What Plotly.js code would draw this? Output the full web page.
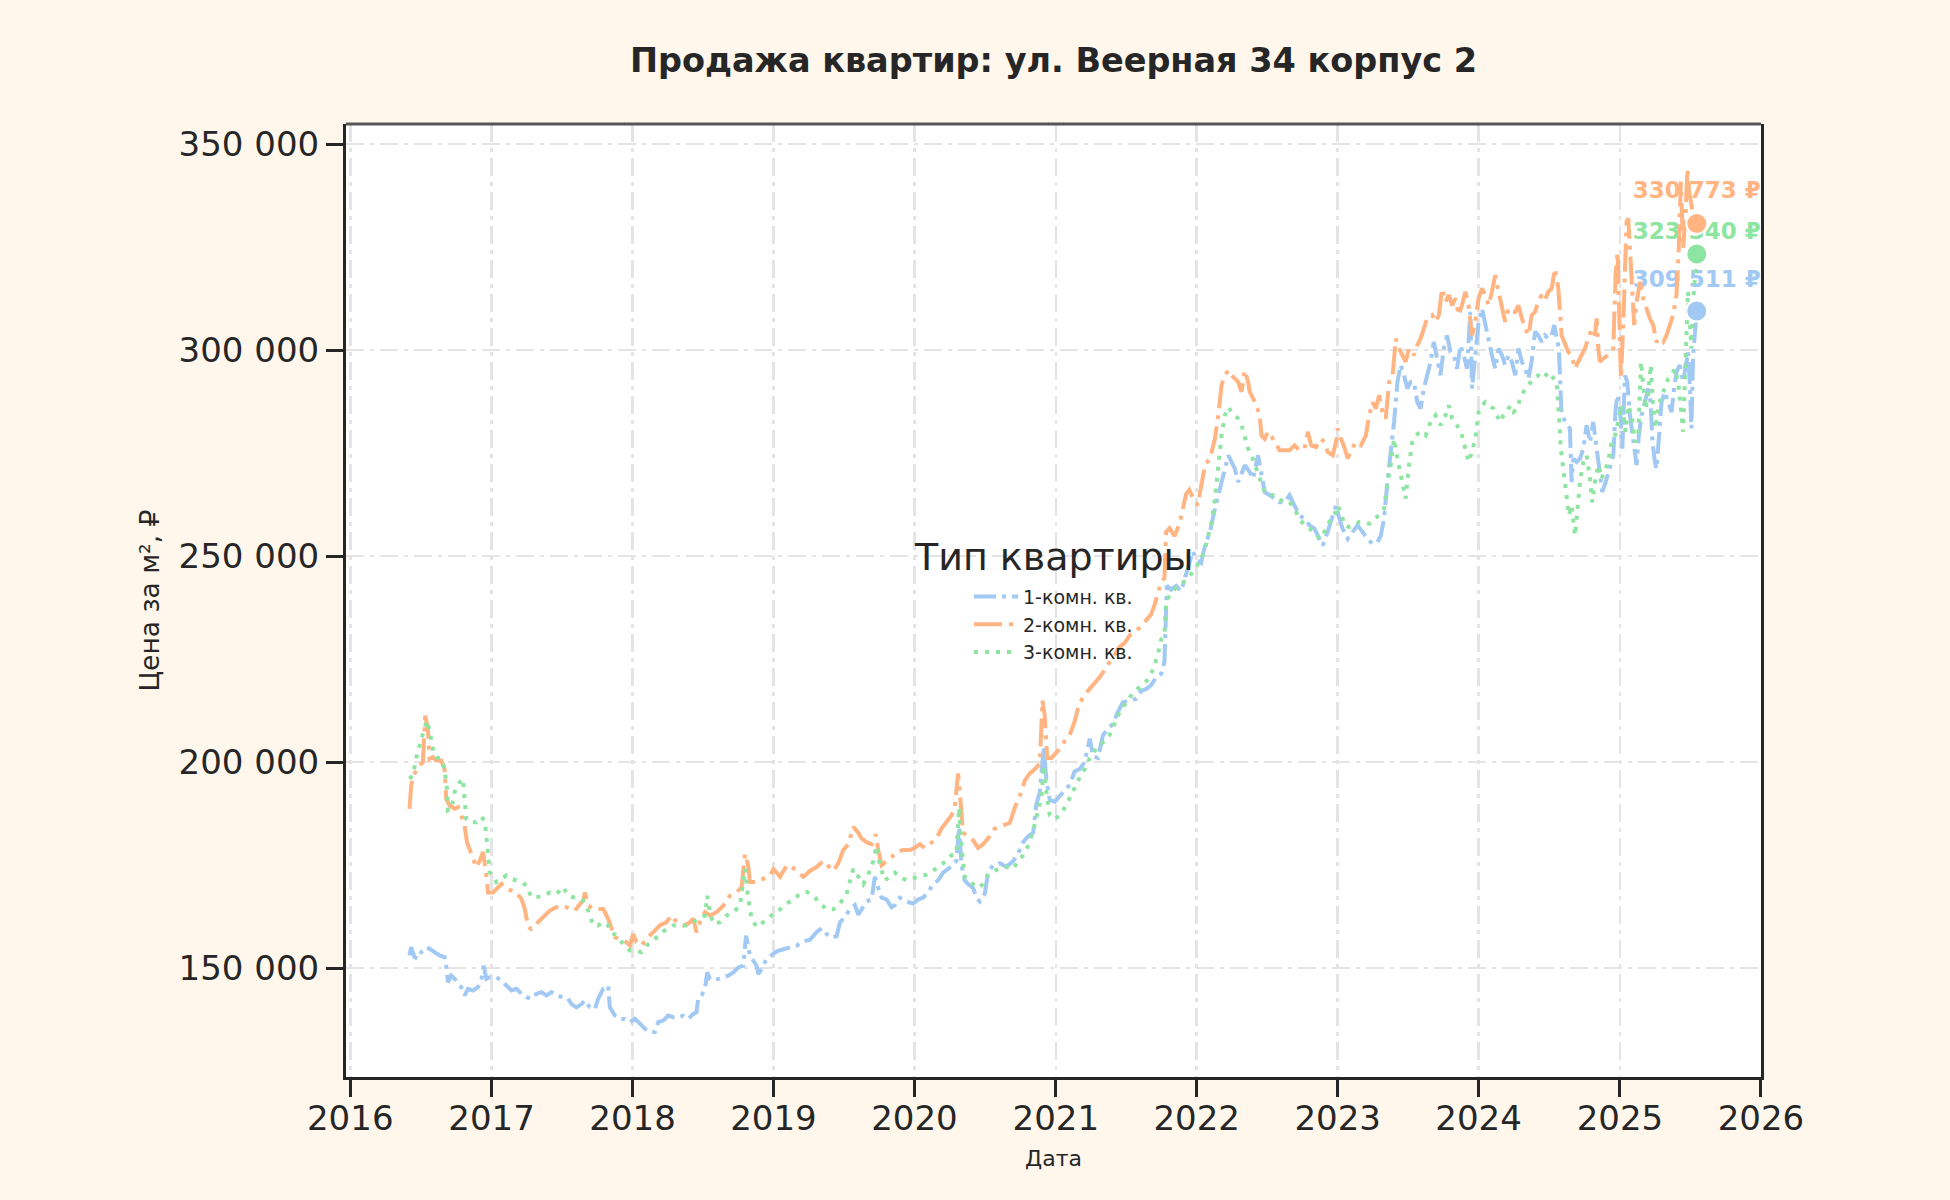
<!DOCTYPE html>
<html>
<head>
<meta charset="utf-8">
<script src="https://cdn.plot.ly/plotly-3.0.1.min.js"></script>
<style>html,body{margin:0;padding:0;background:#fff7ec;}#chart{width:1950px;height:1200px;}</style>
</head>
<body>
<div id="chart"></div>
<script>
// Series names and colours
const seriesNames = ['1-комн. кв.', '2-комн. кв.', '3-комн. кв.'];
const seriesColors = ['#a1c9f4', '#ffb482', '#8de5a1'];
const chartTitle = 'Продажа квартир: ул. Веерная 34 корпус 2';
const legendTitle = 'Тип квартиры';
const xTitle = 'Дата';
const yTitle = 'Цена за м², ₽';

// [decimal year, price per m², ₽]
const oneRoom = [
[2016.419,153100],[2016.431,155100],[2016.454,152700],[2016.478,152300],[2016.502,153900],[2016.537,155100],[2016.561,154700],[2016.596,153900],[2016.632,153100],[2016.667,152700],[2016.679,150600],[2016.691,146600],[2016.715,148200],[2016.750,147000],[2016.786,145400],[2016.809,143400],[2016.833,145000],[2016.869,144600],[2016.904,145400],[2016.928,147400],[2016.944,150600],[2016.963,147400],[2016.987,147800],
[2017.034,147800],[2017.070,147000],[2017.105,145800],[2017.141,144600],[2017.176,145000],[2017.212,143800],[2017.247,143000],[2017.283,142600],[2017.318,143800],[2017.354,144200],[2017.389,143400],[2017.425,144200],[2017.460,143400],[2017.508,143000],[2017.543,142600],[2017.567,141300],[2017.602,140500],[2017.638,141300],[2017.662,142200],[2017.697,140500],[2017.733,140100],[2017.756,142600],[2017.792,145000],[2017.827,145800],[2017.839,140500],[2017.875,138500],[2017.910,137700],[2017.946,137700],[2017.981,136900],
[2018.017,137700],[2018.052,136500],[2018.088,135300],[2018.123,134500],[2018.159,134500],[2018.182,136900],[2018.218,137300],[2018.253,138500],[2018.289,138100],[2018.324,138100],[2018.360,138500],[2018.395,137700],[2018.431,138900],[2018.454,139300],[2018.466,142600],[2018.490,143400],[2018.514,145000],[2018.530,149000],[2018.549,147400],[2018.573,147000],[2018.608,147400],[2018.644,147800],[2018.679,148200],[2018.715,149000],[2018.750,150200],[2018.786,150600],[2018.805,157900],[2018.833,153100],[2018.857,151900],[2018.880,150600],[2018.892,148600],[2018.916,149800],[2018.951,152300],[2018.987,153100],
[2019.024,154100],[2019.071,154600],[2019.118,155100],[2019.165,155500],[2019.212,156500],[2019.259,156900],[2019.307,158800],[2019.342,159700],[2019.377,158300],[2019.413,157400],[2019.448,157800],[2019.472,161100],[2019.507,162500],[2019.542,164300],[2019.578,165300],[2019.601,163000],[2019.625,164300],[2019.660,166200],[2019.696,166700],[2019.719,172200],[2019.743,169500],[2019.767,167100],[2019.802,166700],[2019.837,164800],[2019.861,165300],[2019.896,167100],[2019.943,166200],[2019.991,165700],
[2020.026,166700],[2020.061,167100],[2020.097,168500],[2020.132,170400],[2020.167,171300],[2020.203,173200],[2020.238,174100],[2020.274,175000],[2020.297,176000],[2020.316,184300],[2020.333,175000],[2020.356,171300],[2020.380,170400],[2020.415,169500],[2020.439,167100],[2020.462,166200],[2020.498,168100],[2020.521,173200],[2020.557,175000],[2020.604,175500],[2020.651,174600],[2020.698,176000],[2020.733,177800],[2020.769,180600],[2020.804,182000],[2020.840,182900],[2020.863,189900],[2020.887,192700],[2020.915,203800],[2020.934,195500],[2020.958,190800],[2020.993,190400],
[2021.028,191800],[2021.064,193100],[2021.099,194500],[2021.134,197800],[2021.170,198300],[2021.205,200100],[2021.241,205700],[2021.264,201500],[2021.300,201000],[2021.335,206600],[2021.370,208000],[2021.406,209400],[2021.441,212200],[2021.476,214500],[2021.524,215000],[2021.571,215400],[2021.606,217300],[2021.642,217800],[2021.677,218700],[2021.712,220600],[2021.748,221500],[2021.771,224300],[2021.783,237300],[2021.788,242800],[2021.818,241900],[2021.854,242800],[2021.889,241500],[2021.925,245600],[2021.948,248900],[2021.972,251200],[2021.995,249300],
[2022.031,248400],[2022.059,252600],[2022.094,255900],[2022.129,261500],[2022.153,264800],[2022.176,268800],[2022.200,271200],[2022.224,274500],[2022.247,272900],[2022.271,271200],[2022.294,268000],[2022.318,270400],[2022.341,272100],[2022.376,270400],[2022.400,268800],[2022.435,274500],[2022.459,269600],[2022.482,265600],[2022.518,264800],[2022.553,264000],[2022.588,263100],[2022.624,263100],[2022.659,264800],[2022.694,262300],[2022.729,259900],[2022.765,259100],[2022.800,257500],[2022.835,256700],[2022.859,255000],[2022.894,252600],[2022.929,255900],[2022.965,259900],[2022.988,262300],
[2023.012,259100],[2023.035,256700],[2023.071,254200],[2023.106,255900],[2023.141,257500],[2023.176,255900],[2023.212,254200],[2023.247,253000],[2023.282,253400],[2023.306,255000],[2023.329,259100],[2023.353,268000],[2023.376,274500],[2023.400,282600],[2023.424,292300],[2023.447,296400],[2023.471,293900],[2023.494,290700],[2023.518,292300],[2023.541,292300],[2023.565,287400],[2023.588,285800],[2023.612,290700],[2023.635,293900],[2023.659,297200],[2023.682,302000],[2023.706,298000],[2023.729,293900],[2023.753,300400],[2023.776,303600],[2023.800,299600],[2023.824,298800],[2023.847,295500],[2023.871,301200],[2023.894,298800],[2023.918,295500],[2023.941,309300],[2023.953,290700],[2023.976,298800],
[2024.000,306900],[2024.024,310100],[2024.047,306100],[2024.071,302000],[2024.094,298800],[2024.118,295500],[2024.141,300400],[2024.165,298800],[2024.188,296400],[2024.212,298800],[2024.235,297200],[2024.259,293900],[2024.282,300400],[2024.306,297200],[2024.329,295500],[2024.353,293100],[2024.375,297200],[2024.399,304500],[2024.422,303600],[2024.446,302000],[2024.469,303600],[2024.493,302800],[2024.517,303600],[2024.535,306100],[2024.552,302800],[2024.568,300400],[2024.587,284200],[2024.611,282600],[2024.630,281800],[2024.646,281000],[2024.658,268000],[2024.670,273700],[2024.693,272900],[2024.717,273700],[2024.741,276100],[2024.764,281800],[2024.788,277700],[2024.811,282600],[2024.835,276100],[2024.858,269600],[2024.875,265600],[2024.899,268000],[2024.929,271200],[2024.953,274500],[2024.969,285800],[2024.983,289100],
[2025.000,285800],[2025.017,276100],[2025.035,293900],[2025.052,292300],[2025.071,284200],[2025.094,277700],[2025.118,272100],[2025.134,279300],[2025.153,284200],[2025.177,287400],[2025.200,290700],[2025.217,287400],[2025.231,277700],[2025.248,272900],[2025.259,271200],[2025.276,278500],[2025.295,287400],[2025.318,289900],[2025.342,287400],[2025.366,285000],[2025.384,290700],[2025.401,294700],[2025.425,296400],[2025.448,292300],[2025.472,297200],[2025.483,299600],[2025.495,292300],[2025.507,281000],[2025.519,298800],[2025.545,309511]
];

const twoRoom = [
[2016.419,188700],[2016.431,194300],[2016.443,196400],[2016.478,198800],[2016.514,200000],[2016.530,211300],[2016.549,208100],[2016.561,200800],[2016.585,201200],[2016.608,200400],[2016.644,200400],[2016.667,198400],[2016.679,191100],[2016.703,189500],[2016.738,188700],[2016.762,189100],[2016.786,187100],[2016.809,184600],[2016.826,180600],[2016.845,179000],[2016.869,176500],[2016.892,174500],[2016.916,176100],[2016.940,178200],[2016.963,172500],[2016.975,168400],
[2017.011,168400],[2017.046,169700],[2017.070,170500],[2017.105,169300],[2017.141,168900],[2017.176,168400],[2017.212,166800],[2017.236,164400],[2017.259,160000],[2017.283,159500],[2017.307,160000],[2017.330,161200],[2017.366,162400],[2017.413,164000],[2017.460,164800],[2017.508,165200],[2017.555,164400],[2017.591,164000],[2017.626,165600],[2017.650,166400],[2017.662,168400],[2017.685,165200],[2017.721,164400],[2017.756,164400],[2017.792,164400],[2017.827,162000],[2017.851,160000],[2017.875,157500],[2017.910,157100],[2017.957,156300],[2017.981,155500],
[2018.005,158300],[2018.028,156300],[2018.064,155500],[2018.099,157100],[2018.147,158700],[2018.194,160400],[2018.241,161200],[2018.277,162800],[2018.312,161200],[2018.360,160400],[2018.395,160800],[2018.431,162000],[2018.454,158700],[2018.478,161200],[2018.514,163600],[2018.549,162800],[2018.596,163600],[2018.644,165200],[2018.691,167600],[2018.738,168400],[2018.774,169700],[2018.798,177800],[2018.821,174900],[2018.833,170900],[2018.880,170900],[2018.928,171700],[2018.975,172500],
[2019.000,174100],[2019.047,172200],[2019.094,175000],[2019.130,174600],[2019.165,173600],[2019.212,172200],[2019.259,173600],[2019.307,174600],[2019.354,176000],[2019.401,174600],[2019.425,173600],[2019.460,175500],[2019.495,178700],[2019.531,180100],[2019.566,184300],[2019.601,182900],[2019.625,181500],[2019.660,180600],[2019.696,180100],[2019.726,182500],[2019.743,178700],[2019.767,175000],[2019.802,176000],[2019.837,176900],[2019.873,178300],[2019.920,178700],[2019.967,178700],
[2020.002,179200],[2020.038,180100],[2020.073,179200],[2020.108,180100],[2020.156,181500],[2020.191,183900],[2020.226,185300],[2020.262,187100],[2020.285,189000],[2020.309,197300],[2020.321,192700],[2020.333,185300],[2020.344,182900],[2020.380,182000],[2020.415,181100],[2020.450,179200],[2020.486,180100],[2020.533,182000],[2020.568,183900],[2020.604,184300],[2020.639,184800],[2020.675,185300],[2020.710,189000],[2020.745,191800],[2020.781,195500],[2020.816,197300],[2020.851,198300],[2020.887,199600],[2020.906,215000],[2020.922,211300],[2020.939,201000],[2020.969,201000],
[2021.005,202400],[2021.040,203800],[2021.064,205200],[2021.099,206600],[2021.134,209900],[2021.158,213100],[2021.193,215900],[2021.229,217300],[2021.264,218700],[2021.311,220600],[2021.347,222400],[2021.382,224300],[2021.417,226100],[2021.453,228000],[2021.488,228900],[2021.524,230800],[2021.559,231700],[2021.594,232600],[2021.642,234500],[2021.677,235900],[2021.701,238200],[2021.724,241000],[2021.748,243800],[2021.771,244700],[2021.783,255900],[2021.807,256800],[2021.842,254900],[2021.877,257700],[2021.901,261400],[2021.925,265100],[2021.948,266100],[2021.972,264200],
[2022.007,262400],[2022.059,272100],[2022.094,273700],[2022.129,278500],[2022.153,284200],[2022.176,291500],[2022.200,293900],[2022.224,295100],[2022.247,293900],[2022.271,293100],[2022.294,292300],[2022.318,289900],[2022.341,295100],[2022.365,292300],[2022.376,289900],[2022.400,288300],[2022.424,286600],[2022.447,284200],[2022.459,279300],[2022.482,278500],[2022.506,280200],[2022.541,278500],[2022.565,276900],[2022.588,275700],[2022.624,275700],[2022.659,275700],[2022.694,276900],[2022.729,275700],[2022.765,276100],[2022.788,280200],[2022.812,276900],[2022.847,276500],[2022.882,278500],[2022.906,277700],[2022.929,275300],[2022.965,274500],[2022.988,277700],
[2023.000,281000],[2023.024,278500],[2023.047,276500],[2023.071,273700],[2023.094,275700],[2023.129,277700],[2023.165,276900],[2023.200,279300],[2023.224,284200],[2023.247,287400],[2023.271,285800],[2023.294,289100],[2023.318,285000],[2023.341,283400],[2023.365,292300],[2023.388,293100],[2023.400,298800],[2023.412,302800],[2023.435,300400],[2023.459,298800],[2023.482,297200],[2023.506,300400],[2023.541,298800],[2023.565,301200],[2023.588,302800],[2023.612,305300],[2023.635,307700],[2023.671,308500],[2023.694,306900],[2023.718,308500],[2023.741,315000],[2023.765,311700],[2023.788,313400],[2023.812,310900],[2023.835,312600],[2023.859,308500],[2023.882,310900],[2023.906,314200],[2023.929,310900],[2023.953,303600],[2023.976,306900],
[2024.000,312600],[2024.024,315000],[2024.047,313400],[2024.071,310900],[2024.094,314200],[2024.118,318200],[2024.141,314200],[2024.165,310900],[2024.188,306900],[2024.212,310100],[2024.235,309300],[2024.259,309300],[2024.282,310900],[2024.306,307700],[2024.329,305300],[2024.353,303600],[2024.375,308500],[2024.399,309300],[2024.422,311700],[2024.446,313400],[2024.469,312200],[2024.493,314200],[2024.517,315000],[2024.540,319800],[2024.564,315000],[2024.587,303600],[2024.611,301200],[2024.634,299600],[2024.658,298800],[2024.682,295500],[2024.705,297200],[2024.729,298800],[2024.752,300400],[2024.776,302800],[2024.800,305300],[2024.823,303600],[2024.835,307700],[2024.847,300400],[2024.858,297200],[2024.882,298000],[2024.917,298800],[2024.953,300400],[2024.969,318200],[2024.983,323900],[2024.993,313400],
[2025.007,293100],[2025.024,306900],[2025.047,331200],[2025.059,332000],[2025.071,324700],[2025.087,315000],[2025.101,306100],[2025.118,311700],[2025.142,316600],[2025.165,312600],[2025.189,310100],[2025.212,307700],[2025.236,306100],[2025.259,302000],[2025.283,302800],[2025.307,302000],[2025.330,303600],[2025.354,306100],[2025.377,308500],[2025.401,313400],[2025.417,324700],[2025.432,340900],[2025.448,324700],[2025.465,332800],[2025.479,344000],[2025.491,338500],[2025.507,334400],[2025.519,332800],[2025.545,330773]
];

const threeRoom = [
[2016.419,196000],[2016.443,196800],[2016.471,201600],[2016.490,204400],[2016.514,206900],[2016.542,210100],[2016.561,207700],[2016.585,203200],[2016.608,201200],[2016.644,200800],[2016.667,198400],[2016.684,193500],[2016.691,188300],[2016.715,188700],[2016.738,192700],[2016.774,195100],[2016.798,196000],[2016.809,191100],[2016.821,186200],[2016.845,185400],[2016.892,185400],[2016.928,186700],[2016.951,185800],[2016.963,182200],[2016.975,178200],[2016.987,173300],
[2017.011,172500],[2017.034,170900],[2017.070,171700],[2017.105,172500],[2017.141,171700],[2017.176,171300],[2017.212,170900],[2017.247,170100],[2017.283,167200],[2017.318,167200],[2017.366,167600],[2017.413,168400],[2017.460,168000],[2017.508,169700],[2017.543,167600],[2017.579,167200],[2017.614,167200],[2017.650,166400],[2017.685,164000],[2017.721,160400],[2017.756,160400],[2017.792,161200],[2017.827,160400],[2017.851,158700],[2017.886,157900],[2017.934,155900],[2017.981,154300],
[2018.017,154300],[2018.064,153900],[2018.099,155500],[2018.147,156700],[2018.194,158300],[2018.241,159500],[2018.289,160400],[2018.336,160400],[2018.383,160400],[2018.431,161200],[2018.478,162000],[2018.514,162800],[2018.530,167600],[2018.549,163600],[2018.573,160800],[2018.620,161200],[2018.667,162800],[2018.715,163600],[2018.762,165200],[2018.798,174100],[2018.821,166800],[2018.845,162000],[2018.880,160000],[2018.928,161200],[2018.975,162400],
[2019.000,163400],[2019.047,164300],[2019.094,165700],[2019.142,166700],[2019.189,168100],[2019.236,168500],[2019.283,167600],[2019.330,165700],[2019.377,164300],[2019.425,164300],[2019.472,165700],[2019.519,168100],[2019.566,174100],[2019.601,172200],[2019.637,170400],[2019.672,172700],[2019.708,176000],[2019.731,179700],[2019.755,175000],[2019.790,171300],[2019.825,172200],[2019.861,173200],[2019.896,172200],[2019.943,171300],[2019.991,171800],
[2020.038,172200],[2020.085,172700],[2020.132,173600],[2020.179,175000],[2020.226,176000],[2020.262,177400],[2020.297,177800],[2020.316,189000],[2020.333,179700],[2020.356,172200],[2020.380,171300],[2020.415,170400],[2020.450,169500],[2020.486,170400],[2020.521,172700],[2020.557,173600],[2020.604,174100],[2020.651,174600],[2020.698,174100],[2020.733,176000],[2020.769,177400],[2020.804,179700],[2020.840,183400],[2020.875,188000],[2020.899,191800],[2020.915,199200],[2020.934,192700],[2020.958,187100],[2020.993,186200],
[2021.028,187100],[2021.064,189000],[2021.099,191300],[2021.134,194100],[2021.170,196400],[2021.205,198300],[2021.241,201000],[2021.288,203400],[2021.335,204800],[2021.382,206600],[2021.417,209400],[2021.453,212200],[2021.500,214500],[2021.547,216800],[2021.594,218200],[2021.642,219600],[2021.689,222400],[2021.724,226100],[2021.748,229800],[2021.771,231200],[2021.783,239100],[2021.818,241000],[2021.854,242400],[2021.889,243300],[2021.925,244200],[2021.960,245600],[2021.995,247500],
[2022.031,249300],[2022.059,251800],[2022.082,255000],[2022.106,258300],[2022.129,264000],[2022.153,272100],[2022.176,279300],[2022.200,284200],[2022.224,286200],[2022.247,285000],[2022.271,284200],[2022.294,283400],[2022.318,281800],[2022.341,279300],[2022.365,276100],[2022.388,274500],[2022.412,272100],[2022.435,270400],[2022.459,268000],[2022.482,265600],[2022.518,264800],[2022.565,264800],[2022.612,263100],[2022.659,263100],[2022.694,261500],[2022.729,259100],[2022.765,257500],[2022.800,256700],[2022.835,255900],[2022.871,254200],[2022.906,255900],[2022.941,258300],[2022.976,259900],
[2023.000,262300],[2023.024,260700],[2023.047,257500],[2023.082,257100],[2023.118,257500],[2023.153,258300],[2023.188,258300],[2023.224,257900],[2023.259,259100],[2023.294,259900],[2023.329,261500],[2023.353,268000],[2023.376,272100],[2023.400,278500],[2023.424,273700],[2023.447,269600],[2023.471,266400],[2023.482,264000],[2023.506,272100],[2023.529,277700],[2023.553,279300],[2023.588,280200],[2023.624,279300],[2023.659,282600],[2023.694,284200],[2023.729,281800],[2023.765,284200],[2023.788,286600],[2023.812,283400],[2023.847,281800],[2023.882,279300],[2023.906,276100],[2023.929,272900],[2023.953,275300],[2023.976,278500],
[2024.000,285000],[2024.024,286600],[2024.047,287400],[2024.071,286600],[2024.106,285800],[2024.129,284200],[2024.153,282600],[2024.176,284200],[2024.200,285000],[2024.224,286600],[2024.247,285000],[2024.271,285800],[2024.294,288300],[2024.318,289900],[2024.353,291500],[2024.387,293100],[2024.422,293900],[2024.458,293100],[2024.493,294700],[2024.528,293100],[2024.552,292300],[2024.568,284200],[2024.582,276100],[2024.599,271200],[2024.623,264800],[2024.639,259900],[2024.658,262300],[2024.682,255000],[2024.700,261500],[2024.717,268000],[2024.741,272900],[2024.764,274500],[2024.788,268800],[2024.804,263100],[2024.823,268000],[2024.847,272100],[2024.870,268800],[2024.894,271200],[2024.917,272900],[2024.941,277700],[2024.965,279300],[2024.988,282600],
[2025.007,286600],[2025.024,284200],[2025.040,280200],[2025.059,286600],[2025.083,284200],[2025.106,277700],[2025.130,279300],[2025.149,297200],[2025.165,292300],[2025.182,285800],[2025.200,289100],[2025.219,296400],[2025.236,285800],[2025.252,281000],[2025.271,285800],[2025.295,289100],[2025.318,290700],[2025.342,293100],[2025.366,293900],[2025.389,295500],[2025.413,292300],[2025.432,285800],[2025.448,280200],[2025.460,292300],[2025.472,306900],[2025.483,314200],[2025.495,306900],[2025.507,300400],[2025.519,311700],[2025.545,323340]
];

const allSeries = [oneRoom, twoRoom, threeRoom];
const lineDashes = ['22px,6px,4px,6px', '28px,7px,4px,7px', '4px,7px'];
const labelLift = [28, 30, 14];   // invisible marker size used to lift end labels

function toDate(y) {
  const yr = Math.floor(y);
  const a = Date.UTC(yr, 0, 1), b = Date.UTC(yr + 1, 0, 1);
  return new Date(a + (y - yr) * (b - a)).toISOString().slice(0, 19).replace('T', ' ');
}
function fmtRub(v) {
  return String(Math.round(v)).replace(/\B(?=(\d{3})+(?!\d))/g, ' ') + ' ₽';
}

const FONT = 'DejaVu Sans';
const INK = '#262626';
const traces = [];

// End labels (drawn first so lines and dots sit above them)
allSeries.forEach((s, i) => {
  const last = s[s.length - 1];
  traces.push({
    type: 'scatter', mode: 'markers+text',
    x: [toDate(last[0])], y: [last[1]],
    text: ['<b>' + fmtRub(last[1]) + '</b>'],
    textposition: 'top center',
    textfont: {family: FONT, size: 23, color: seriesColors[i]},
    marker: {size: labelLift[i], color: 'rgba(0,0,0,0)', line: {width: 0}},
    cliponaxis: false, showlegend: false, hoverinfo: 'skip'
  });
});

// Lines
allSeries.forEach((s, i) => {
  traces.push({
    type: 'scatter', mode: 'lines', name: seriesNames[i],
    x: s.map(p => toDate(p[0])), y: s.map(p => p[1]),
    line: {color: seriesColors[i], width: 4, dash: lineDashes[i]},
    hoverinfo: 'skip'
  });
});

// End dots
allSeries.forEach((s, i) => {
  const last = s[s.length - 1];
  traces.push({
    type: 'scatter', mode: 'markers',
    x: [toDate(last[0])], y: [last[1]],
    marker: {size: 21, color: seriesColors[i], line: {color: '#ffffff', width: 2}},
    cliponaxis: false, showlegend: false, hoverinfo: 'skip'
  });
});

const axisCommon = {
  showline: true, linecolor: INK, linewidth: 3,
  ticks: 'outside', ticklen: 17, tickwidth: 3, tickcolor: INK,
  tickfont: {family: FONT, size: 34, color: INK},
  showgrid: true, gridcolor: '#e4e4e4', gridwidth: 2.5, griddash: '18px,6px,4px,6px',
  zeroline: false
};

const layout = {
  width: 1950, height: 1200,
  paper_bgcolor: '#fff7ec', plot_bgcolor: '#ffffff',
  margin: {l: 346, r: 189, t: 124, b: 123},
  separators: ', ',
  title: {
    text: '<b>' + chartTitle + '</b>',
    font: {family: FONT, size: 33.5, color: INK},
    x: 0.5, xref: 'paper', xanchor: 'center',
    y: 1 - 60 / 1200, yref: 'container', yanchor: 'middle'
  },
  xaxis: Object.assign({}, axisCommon, {
    type: 'date',
    range: ['2015-12-21', '2026-01-01 06:00'],
    tick0: '2016-01-01', dtick: 'M12', tickformat: '%Y',
    ticklabelstandoff: -8,
    mirror: false,
    title: {text: xTitle, font: {family: FONT, size: 22, color: INK}, standoff: 14}
  }),
  yaxis: Object.assign({}, axisCommon, {
    range: [123600, 354900],
    tick0: 0, dtick: 50000, tickformat: ',d',
    mirror: true,
    title: {text: yTitle, font: {family: FONT, size: 26.5, color: INK}, standoff: 12}
  }),
  showlegend: true,
  legend: {
    x: 0.5, xanchor: 'center', y: 0.524, yanchor: 'top',
    bgcolor: 'rgba(0,0,0,0)', borderwidth: 0,
    font: {family: FONT, size: 19, color: INK},
    itemwidth: 44,
    tracegroupgap: 0
  },
  annotations: [{
    text: legendTitle, xref: 'paper', yref: 'paper',
    x: 0.5, xanchor: 'center', y: (1077 - 557) / 953, yanchor: 'middle',
    showarrow: false, font: {family: FONT, size: 38, color: INK}
  }],
  shapes: [{
    type: 'line', xref: 'paper', yref: 'paper', x0: 0, x1: 1, y0: 1, y1: 1,
    line: {color: '#555555', width: 3}, layer: 'above'
  }]
};

Plotly.newPlot('chart', traces, layout, {displayModeBar: false, staticPlot: true});
</script>
</body>
</html>
